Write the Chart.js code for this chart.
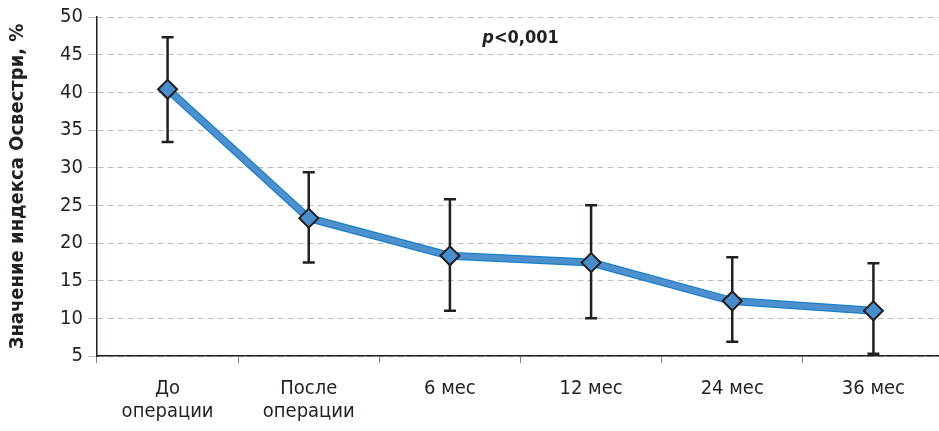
<!DOCTYPE html>
<html>
<head>
<meta charset="utf-8">
<script src="https://cdn.jsdelivr.net/npm/chart.js@4"></script>
<style>
  html, body { margin: 0; padding: 0; background: #fff; overflow: hidden; }
  #wrap { width: 944px; height: 431px; }
</style>
</head>
<body>
<div id="wrap"><canvas id="oswestryChart" width="944" height="431"></canvas></div>
<script>
// Данные графика
const categories = [['До', 'операции'], ['После', 'операции'], '6 мес', '12 мес', '24 мес', '36 мес'];
const meanValues = [40.4, 23.3, 18.3, 17.4, 12.3, 11.0];
const upperValues = [47.3, 29.4, 25.8, 25.0, 18.1, 17.3];
const lowerValues = [33.4, 17.4, 11.0, 10.0, 6.9, 5.3];
const yTicks = [5, 10, 15, 20, 25, 30, 35, 40, 45, 50];

const FONT = "'Liberation Sans Narrow', 'DejaVu Sans Condensed', 'Roboto', sans-serif";
const DARK = '#231f20';

// Планки погрешностей под маркерами
const errorBars = {
    id: 'errorBars',
    beforeDatasetsDraw(chart) {
        const ctx = chart.ctx;
        const x = chart.scales.x;
        const y = chart.scales.y;
        ctx.save();
        ctx.strokeStyle = DARK;
        ctx.lineWidth = 2.5;
        meanValues.forEach((v, i) => {
            const px = x.getPixelForValue(i);
            const top = y.getPixelForValue(upperValues[i]);
            const bot = y.getPixelForValue(lowerValues[i]);
            ctx.beginPath();
            ctx.moveTo(px, top);
            ctx.lineTo(px, bot);
            ctx.moveTo(px - 6, top);
            ctx.lineTo(px + 6, top);
            ctx.moveTo(px - 6, bot);
            ctx.lineTo(px + 6, bot);
            ctx.stroke();
        });
        ctx.restore();
    }
};

// Подпись p<0,001
const pValue = {
    id: 'pValue',
    afterDraw(chart) {
        const ctx = chart.ctx;
        const x = chart.scales.x;
        const y = chart.scales.y;
        const cx = (x.getPixelForValue(2) + x.getPixelForValue(3)) / 2;
        const cy = y.getPixelForValue(47.2);
        ctx.save();
        ctx.fillStyle = DARK;
        ctx.textBaseline = 'middle';
        ctx.font = 'italic bold 18px ' + FONT;
        const wp = ctx.measureText('p').width;
        ctx.font = 'bold 18px ' + FONT;
        const wr = ctx.measureText('<0,001').width;
        const start = cx - (wp + wr) / 2;
        ctx.font = 'italic bold 18px ' + FONT;
        ctx.textAlign = 'left';
        ctx.fillText('p', start, cy);
        ctx.font = 'bold 18px ' + FONT;
        ctx.fillText('<0,001', start + wp, cy);
        ctx.restore();
    }
};

const ctx = document.getElementById('oswestryChart').getContext('2d');

new Chart(ctx, {
    type: 'line',
    data: {
        labels: categories,
        datasets: [
            {
                data: meanValues,
                borderColor: '#1a80c6',
                borderWidth: 8,
                pointRadius: 0,
                tension: 0,
                order: 2
            },
            {
                data: meanValues,
                borderColor: '#4e8fce',
                borderWidth: 5.5,
                tension: 0,
                pointStyle: 'rectRot',
                pointRadius: 9.5,
                pointBackgroundColor: '#4a8dcc',
                pointBorderColor: DARK,
                pointBorderWidth: 2,
                order: 1
            }
        ]
    },
    options: {
        responsive: false,
        animation: false,
        events: [],
        layout: {
            autoPadding: false,
            padding: { top: 15, right: 0, bottom: 0, left: 0 }
        },
        plugins: {
            legend: { display: false },
            tooltip: { enabled: false }
        },
        scales: {
            x: {
                offset: true,
                grid: {
                    offset: true,
                    drawOnChartArea: false,
                    drawTicks: true,
                    tickLength: 7,
                    tickColor: '#808080',
                    tickWidth: 1
                },
                border: { display: true, color: DARK, width: 1.5 },
                ticks: {
                    color: DARK,
                    padding: 14,
                    maxRotation: 0,
                    autoSkip: false,
                    font: { family: FONT, size: 20, lineHeight: 1.15 }
                },
                afterFit(scale) {
                    scale.height = 75;
                    scale.paddingLeft = 0;
                    scale.paddingRight = 0;
                }
            },
            y: {
                min: 5,
                max: 50,
                afterBuildTicks(scale) {
                    scale.ticks = yTicks.map(v => ({ value: v }));
                },
                grid: {
                    color: '#bdbdbd',
                    lineWidth: 1,
                    tickLength: 9,
                    tickColor: '#bdbdbd'
                },
                border: { display: true, color: DARK, width: 1.5, dash: [6, 4] },
                ticks: {
                    color: DARK,
                    padding: 5,
                    font: { family: FONT, size: 20 }
                },
                title: {
                    display: true,
                    text: 'Значение индекса Освестри, %',
                    color: DARK,
                    padding: { top: 6, bottom: 0 },
                    font: { family: FONT, size: 20, weight: 'bold' }
                },
                afterFit(scale) { scale.width = 97; }
            }
        }
    },
    plugins: [errorBars, pValue]
});
</script>
</body>
</html>
